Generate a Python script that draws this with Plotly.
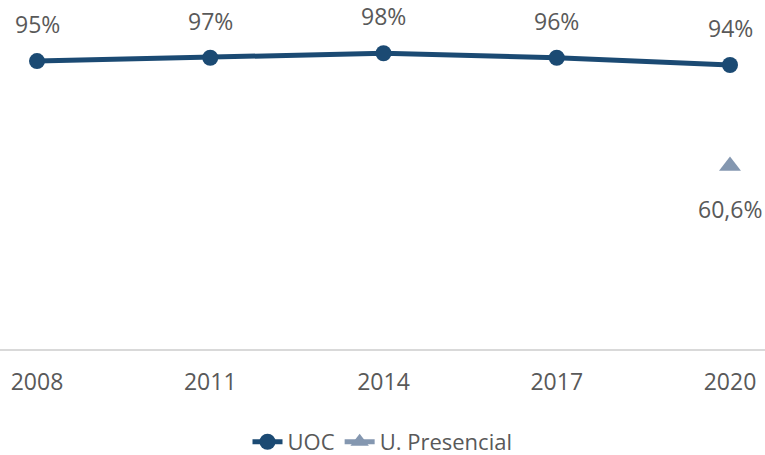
import plotly.graph_objects as go

years = ["2008", "2011", "2014", "2017", "2020"]
uoc = [95.4, 96.5, 98.0, 96.5, 94.1]
uoc_labels = ["95%", "97%", "98%", "96%", "94%"]
pres_years = ["2020"]
presencial = [60.6]
pres_labels = ["60,6%"]

navy = "#1B4A73"
grey = "#8497B0"
txt = "#595959"
font = "Open Sans"
fs = 23

fig = go.Figure()
fig.add_trace(go.Scatter(
    x=years, y=uoc, name="UOC", mode="lines+markers",
    line=dict(color=navy, width=5),
    marker=dict(color=navy, size=16, symbol="circle"),
    cliponaxis=False,
))
fig.add_trace(go.Scatter(
    x=pres_years, y=presencial, name="U. Presencial", mode="lines+markers",
    line=dict(color=grey, width=5),
    marker=dict(color=grey, size=19, symbol="triangle-up"),
    cliponaxis=False,
))

for y, t, cat in zip(uoc, uoc_labels, years):
    fig.add_annotation(x=years.index(cat), y=y, text=t, showarrow=False, yshift=37,
                       font=dict(family=font, size=fs, color=txt))
for y, t, cat in zip(presencial, pres_labels, pres_years):
    fig.add_annotation(x=years.index(cat), y=y, text=t, showarrow=False, yshift=-43,
                       font=dict(family=font, size=fs, color=txt))

fig.update_layout(
    width=765, height=455,
    margin=dict(l=0, r=0, t=17, b=106, autoexpand=False),
    paper_bgcolor="white", plot_bgcolor="white",
    font=dict(family=font, size=fs, color=txt),
    showlegend=True,
    legend=dict(orientation="h", x=0.5, xanchor="center", y=-0.28, yanchor="middle",
                font=dict(family=font, size=fs - 1, color=txt)),
)
fig.update_xaxes(type="category", range=[-0.2136, 4.202], showgrid=False,
                 showline=True, linecolor="#D9D9D9", linewidth=2,
                 ticks="", ticklabelstandoff=11, automargin=False,
                 ticklabeloverflow="allow",
                 tickfont=dict(family=font, size=fs, color=txt))
fig.update_yaxes(range=[0, 110], visible=False, showgrid=False, zeroline=False,
                 automargin=False)

fig.write_html("out.html", config={"displayModeBar": False},
               post_script="document.body.style.margin='0';document.body.style.overflow='hidden';")
